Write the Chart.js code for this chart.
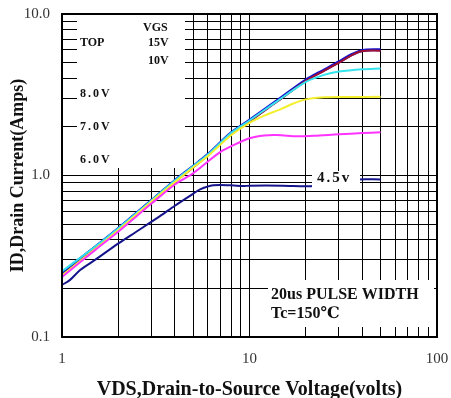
<!DOCTYPE html>
<html>
<head>
<meta charset="utf-8">
<script src="https://cdn.jsdelivr.net/npm/chart.js@4.4.0/dist/chart.umd.min.js"></script>
<style>
  html, body { margin: 0; padding: 0; background: #fff; }
</style>
</head>
<body>
<canvas id="ivChart" width="451" height="398"></canvas>
<script>
// axis ticks (log grid 1..9 per decade)
const xGrid = [1,2,3,4,5,6,7,8,9,10,20,30,40,50,60,70,80,90,100];
const xMajor = [1, 10, 100];
const xTickLabels = ['1', '10', '100'];
const yGrid = [0.1,0.2,0.3,0.4,0.5,0.6,0.7,0.8,0.9,1,2,3,4,5,6,7,8,9,10];
const yMajor = [0.1, 1, 10];
const yTickLabels = ['0.1', '1.0', '10.0'];

// VGS = 15V
const vds15 = [1, 1.5, 2, 3, 4, 5, 6, 8, 10, 14, 20, 25, 30, 35, 40, 50];
const id15  = [0.25, 0.36, 0.47, 0.70, 0.93, 1.14, 1.35, 1.84, 2.2, 2.9, 3.9, 4.5, 5.05, 5.6, 5.95, 6.0];
// VGS = 10V
const vds10 = [1, 1.5, 2, 3, 4, 5, 6, 8, 10, 14, 20, 25, 30, 35, 40, 50];
const id10  = [0.24, 0.35, 0.46, 0.68, 0.91, 1.12, 1.33, 1.81, 2.16, 2.86, 3.85, 4.45, 5.0, 5.55, 5.9, 5.93];
// VGS = 8.0V
const vds8 = [1, 1.5, 2, 3, 4, 5, 6, 8, 10, 14, 20, 25, 30, 40, 50];
const id8  = [0.255, 0.362, 0.472, 0.70, 0.93, 1.14, 1.35, 1.84, 2.19, 2.88, 3.8, 4.2, 4.4, 4.55, 4.6];
// VGS = 7.0V
const vds7 = [1, 1.5, 2, 3, 4, 5, 6, 8, 10, 12, 14.5, 17, 20, 25, 35, 50];
const id7  = [0.24, 0.35, 0.46, 0.69, 0.91, 1.12, 1.32, 1.78, 2.12, 2.35, 2.56, 2.78, 2.96, 3.05, 3.06, 3.07];
// VGS = 6.0V
const vds6 = [1, 1.5, 2, 3, 4, 5, 6, 7, 8, 10, 12, 14, 18, 22, 30, 40, 50];
const id6  = [0.235, 0.345, 0.45, 0.67, 0.88, 1.03, 1.22, 1.40, 1.52, 1.70, 1.77, 1.78, 1.75, 1.76, 1.80, 1.83, 1.85];
// VGS = 4.5V
const vds45 = [1, 1.1, 1.25, 1.5, 2, 2.5, 3.33, 4, 5, 5.45, 6.4, 8, 9.2, 10, 15, 22, 38, 50];
const id45  = [0.21, 0.225, 0.26, 0.30, 0.38, 0.45, 0.56, 0.65, 0.77, 0.82, 0.87, 0.87, 0.86, 0.865, 0.865, 0.86, 0.945, 0.945];

const series = [
  { label: '4.5V', xs: vds45, ys: id45, color: '#14148a', width: 2 },
  { label: '6.0V', xs: vds6,  ys: id6,  color: '#ff33ff', width: 2 },
  { label: '7.0V', xs: vds7,  ys: id7,  color: '#f4f030', width: 2 },
  { label: '8.0V', xs: vds8,  ys: id8,  color: '#33e4ee', width: 2 },
  { label: '10V',  xs: vds10, ys: id10, color: '#a01030', width: 2 },
  { label: '15V',  xs: vds15, ys: id15, color: '#1010d0', width: 3 }
];

const serif = "'Liberation Serif', 'DejaVu Serif', serif";

// white label boxes, text notes and the outer frame
const notesPlugin = {
  id: 'notes',
  afterDatasetsDraw(chart) {
    const ctx = chart.ctx;
    const a = chart.chartArea;
    ctx.save();
    ctx.fillStyle = '#fff';
    ctx.fillRect(77, a.top + 1, 108, 153);
    ctx.fillRect(268, 280, 166, 47);
    ctx.fillRect(312, 171, 48, 18);

    ctx.fillStyle = '#111';
    ctx.textBaseline = 'middle';
    ctx.textAlign = 'left';
    ctx.font = 'bold 12px ' + serif;
    ctx.fillText('VGS', 143, 28);
    ctx.fillText('TOP', 80, 43);
    ctx.fillText('15V', 148, 43);
    ctx.fillText('10V', 148, 61);
    ctx.letterSpacing = '2px';
    ctx.fillText('8.0V', 80, 94);
    ctx.fillText('7.0V', 80, 127);
    ctx.fillText('6.0V', 80, 160);
    ctx.font = 'bold 15px ' + serif;
    ctx.fillText('4.5v', 317, 178);
    ctx.letterSpacing = '0px';
    ctx.font = 'bold 16px ' + serif;
    ctx.fillText('20us PULSE WIDTH', 271, 295);
    ctx.fillText('Tc=150℃', 271, 314);

    ctx.strokeStyle = '#000';
    ctx.lineWidth = 2;
    ctx.strokeRect(a.left, a.top, a.right - a.left, a.bottom - a.top);
    ctx.restore();
  }
};

const ctx = document.getElementById('ivChart').getContext('2d');
new Chart(ctx, {
  type: 'line',
  data: {
    datasets: series.map(s => ({
      label: s.label,
      data: s.xs.map((x, i) => ({ x: x, y: s.ys[i] })),
      borderColor: s.color,
      borderWidth: s.width,
      pointRadius: 0,
      tension: 0.3,
      fill: false
    }))
  },
  options: {
    responsive: false,
    animation: false,
    devicePixelRatio: 1,
    layout: { padding: { top: 14, right: 14, left: 0, bottom: 0 } },
    plugins: {
      legend: { display: false },
      tooltip: { enabled: false }
    },
    scales: {
      x: {
        type: 'logarithmic',
        min: 1, max: 100,
        afterBuildTicks: scale => { scale.ticks = xGrid.map(v => ({ value: v })); },
        afterFit: scale => {
          scale.height = 61;
          scale.paddingLeft = 0; scale.paddingRight = 0;
        },
        grid: { color: '#000', lineWidth: 1, drawTicks: false },
        border: { color: '#000', width: 2 },
        ticks: {
          autoSkip: false, maxRotation: 0, padding: 13,
          color: '#333',
          font: { family: serif, size: 15 },
          callback: v => { const i = xMajor.indexOf(v); return i >= 0 ? xTickLabels[i] : ''; }
        },
        title: {
          display: true,
          text: 'VDS,Drain-to-Source Voltage(volts)',
          color: '#111',
          font: { family: serif, size: 20, weight: 'bold', lineHeight: 0.85 },
          padding: { top: 0, bottom: 0 }
        }
      },
      y: {
        type: 'logarithmic',
        min: 0.1, max: 10,
        afterBuildTicks: scale => { scale.ticks = yGrid.map(v => ({ value: v })); },
        afterFit: scale => {
          scale.width = 62;
          scale.paddingTop = 0; scale.paddingBottom = 0;
        },
        grid: { color: '#000', lineWidth: 1, drawTicks: false },
        border: { color: '#000', width: 2 },
        ticks: {
          autoSkip: false, padding: 12,
          color: '#333',
          font: { family: serif, size: 15 },
          callback: v => {
            const i = yMajor.findIndex(m => Math.abs(m - v) < 1e-9);
            return i >= 0 ? yTickLabels[i] : '';
          }
        },
        title: {
          display: true,
          text: 'ID,Drain Current(Amps)',
          color: '#111',
          font: { family: serif, size: 18, weight: 'bold' },
          padding: { top: 8, bottom: 0 }
        }
      }
    }
  },
  plugins: [notesPlugin]
});
</script>
</body>
</html>
